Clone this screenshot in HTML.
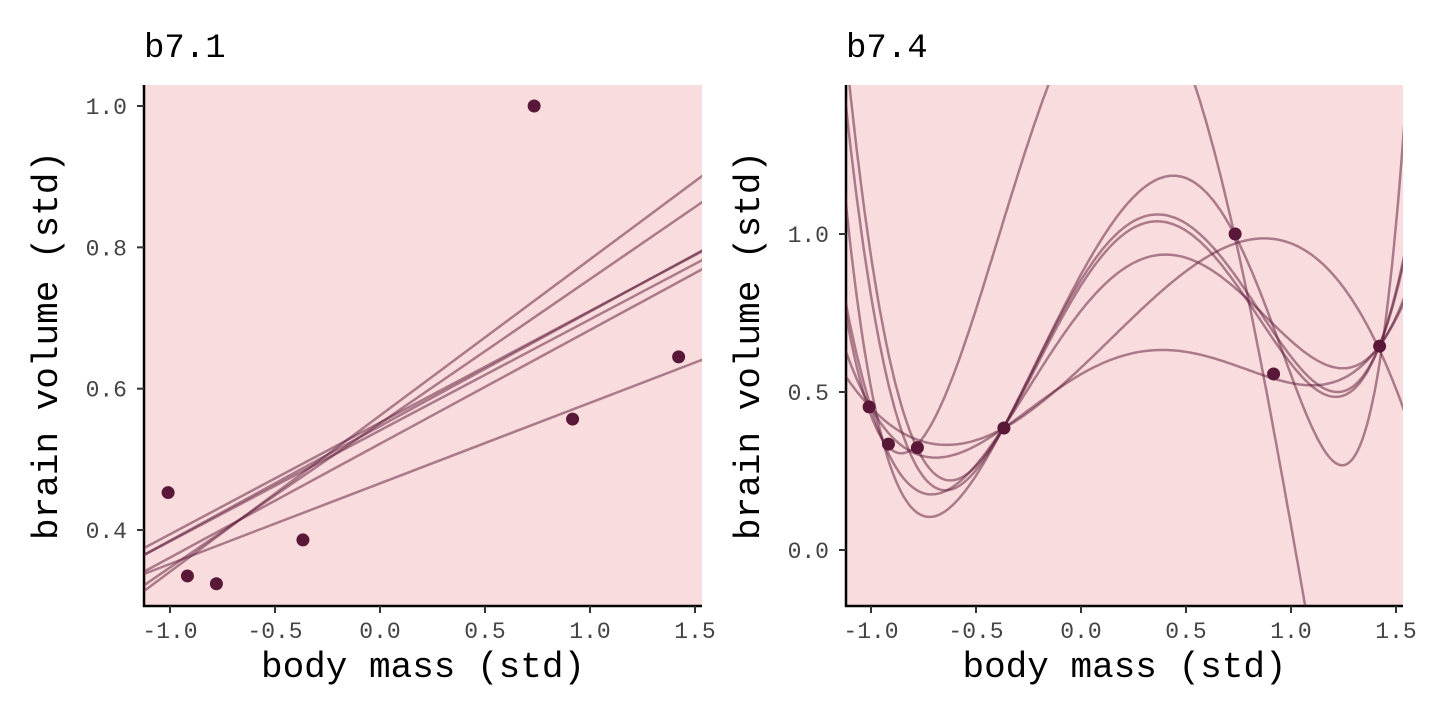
<!DOCTYPE html>
<html><head><meta charset="utf-8">
<style>
html,body{margin:0;padding:0;background:#fff;overflow:hidden;width:1440px;height:720px;position:relative;}
svg{display:block;position:absolute;left:0;top:0;}
.mono{font-family:"Liberation Mono","DejaVu Sans Mono",monospace;}
</style></head>
<body>
<svg id="chart" width="1440" height="720" xmlns="http://www.w3.org/2000/svg">
<defs>
<clipPath id="clipL"><rect x="144" y="85" width="558" height="521"/></clipPath>
<clipPath id="clipR"><rect x="846" y="85" width="557" height="521"/></clipPath>
</defs>
<g id="panelL"></g>
<g id="panelR"></g>
</svg>
<script>
// data points (body mass std, brain volume std)
const massStd = [-0.779, -0.917, -1.009, -0.367, 0.917, 1.422, 0.734];
const brainStd = [0.324, 0.335, 0.453, 0.386, 0.557, 0.645, 1.0];
// b7.1 posterior lines
const lineIntercepts = [0.562, 0.551, 0.552, 0.547, 0.541, 0.522, 0.466];
const lineSlopes = [0.221, 0.204, 0.158, 0.162, 0.157, 0.161, 0.114];
// b7.4 posterior curves: read-off points (x,y) that each curve passes through
const curveKnotsX = [
  [-1.12, -0.782, -0.156, 0.73, 1.067],
  [-1.12, -0.711, -0.367, 0.503, 0.73, 1.186, 1.533],
  [-1.0, -0.367, 0.376, 1.067, 1.42],
  [-1.0, -0.367, 0.21, 0.86, 1.535],
  [-1.0, -0.367, 0.376, 1.241, 1.42],
  [-0.70, -0.367, 0.337, 1.225, 1.42],
  [-0.70, -0.367, 0.30, 1.225, 1.42]
];
const curveKnotsY = [
  [0.75, 0.332, 1.47, 1.0, -0.174],
  [1.1, 0.105, 0.39, 1.176, 1.0, 0.291, 1.292],
  [0.45, 0.386, 0.633, 0.522, 0.645],
  [0.45, 0.386, 0.712, 0.986, 0.448],
  [0.45, 0.39, 0.934, 0.575, 0.645],
  [0.243, 0.39, 1.039, 0.485, 0.645],
  [0.20, 0.39, 1.055, 0.50, 0.645]
];
const xTicks = [-1.0, -0.5, 0.0, 0.5, 1.0, 1.5];
const xTickLabels = ["-1.0", "-0.5", "0.0", "0.5", "1.0", "1.5"];
const yTicksL = [0.4, 0.6, 0.8, 1.0];
const yTickLabelsL = ["0.4", "0.6", "0.8", "1.0"];
const yTicksR = [0.0, 0.5, 1.0];
const yTickLabelsR = ["0.0", "0.5", "1.0"];

const NS = "http://www.w3.org/2000/svg";
const LINE = "rgba(92,24,56,0.5)";
const PT = "#5a1838";
function mk(tag, attrs, parent){const e=document.createElementNS(NS,tag);for(const k in attrs)e.setAttribute(k,attrs[k]);parent.appendChild(e);return e;}

const L = {x0:144, x1:702, y0:85, y1:606, sx:v=>380+210*v, sy:v=>106+(1.0-v)*706.7};
const R = {x0:846, x1:1403, y0:85, y1:606, sx:v=>1081+210*v, sy:v=>550-316*v};

function frame(g, P, title, yT, yTL, name){
  const bg = mk('rect',{x:P.x0,y:P.y0,width:P.x1-P.x0,height:P.y1-P.y0,fill:'#f9dcdd'},g);
  
  
  const t = mk('text',{x:P.x0,y:57,'font-size':34,fill:'#000',class:'mono'},g);
  t.textContent = title;
  
  
  const ax = mk('line',{x1:P.x0,y1:P.y0,x2:P.x0,y2:P.y1+1,stroke:'#000','stroke-width':2.5},g);
  
  
  const bx = mk('line',{x1:P.x0-1,y1:P.y1,x2:P.x1,y2:P.y1,stroke:'#000','stroke-width':2.5},g);
  
  
  xTicks.forEach((v,i)=>{
    const x=P.sx(v);
    mk('line',{x1:x,y1:P.y1,x2:x,y2:P.y1+7,stroke:'#333','stroke-width':2},g);
    const tl=mk('text',{x:x,y:P.y1+32,'font-size':23,fill:'#444','text-anchor':'middle',class:'mono'},g);
    tl.textContent=xTickLabels[i];
    
    
  });
  yT.forEach((v,i)=>{
    const y=P.sy(v);
    mk('line',{x1:P.x0-7,y1:y,x2:P.x0,y2:y,stroke:'#333','stroke-width':2},g);
    const tl=mk('text',{x:P.x0-17,y:y+8,'font-size':23,fill:'#444','text-anchor':'end',class:'mono'},g);
    tl.textContent=yTL[i];
    
    
  });
  const xt=mk('text',{x:(P.x0+P.x1)/2,y:677,'font-size':36,fill:'#000','text-anchor':'middle',class:'mono'},g);
  xt.textContent='body mass (std)';
  
  
  const cy=(P.y0+P.y1)/2, cx=P.x0-87;
  const yt=mk('text',{x:cx,y:cy,'font-size':36,fill:'#000','text-anchor':'middle',class:'mono',transform:`rotate(-90 ${cx} ${cy})`},g);
  yt.textContent='brain volume (std)';
  
  
}
function points(g,P,name){
  massStd.forEach((m,i)=>{
    const c=mk('circle',{cx:P.sx(m),cy:P.sy(brainStd[i]),r:6.5,fill:PT},g);
    
    
  });
}

// Left panel
const gL=document.getElementById('panelL');
frame(gL,L,'b7.1',yTicksL,yTickLabelsL,'b7-1');
const lg=mk('g',{'clip-path':'url(#clipL)'},gL);
lineIntercepts.forEach((a,i)=>{
  const b=lineSlopes[i], xa=-1.2, xb=1.6;
  const ln=mk('line',{x1:L.sx(xa),y1:L.sy(a+b*xa),x2:L.sx(xb),y2:L.sy(a+b*xb),stroke:LINE,'stroke-width':2.5},lg);
  
  
});
points(gL,L,'b7-1');

// Right panel
const gR=document.getElementById('panelR');
frame(gR,R,'b7.4',yTicksR,yTickLabelsR,'b7-4');
const cg=mk('g',{'clip-path':'url(#clipR)'},gR);
function lagrange(xs,ys,x){let s=0;for(let i=0;i<xs.length;i++){let p=ys[i];for(let j=0;j<xs.length;j++){if(j!==i)p*=(x-xs[j])/(xs[i]-xs[j]);}s+=p;}return s;}
curveKnotsX.forEach((xs,k)=>{
  const ys=curveKnotsY[k];let d='';
  for(let t=0;t<=300;t++){
    const x=-1.15+t*(2.75/300);
    let y=lagrange(xs,ys,x);
    y=Math.max(-1,Math.min(2,y));
    d+=(t?'L':'M')+R.sx(x).toFixed(1)+','+R.sy(y).toFixed(1);
  }
  const p=mk('path',{d:d,fill:'none',stroke:LINE,'stroke-width':2.5},cg);
  
  
});
points(gR,R,'b7-4');
</script>
</body></html>
